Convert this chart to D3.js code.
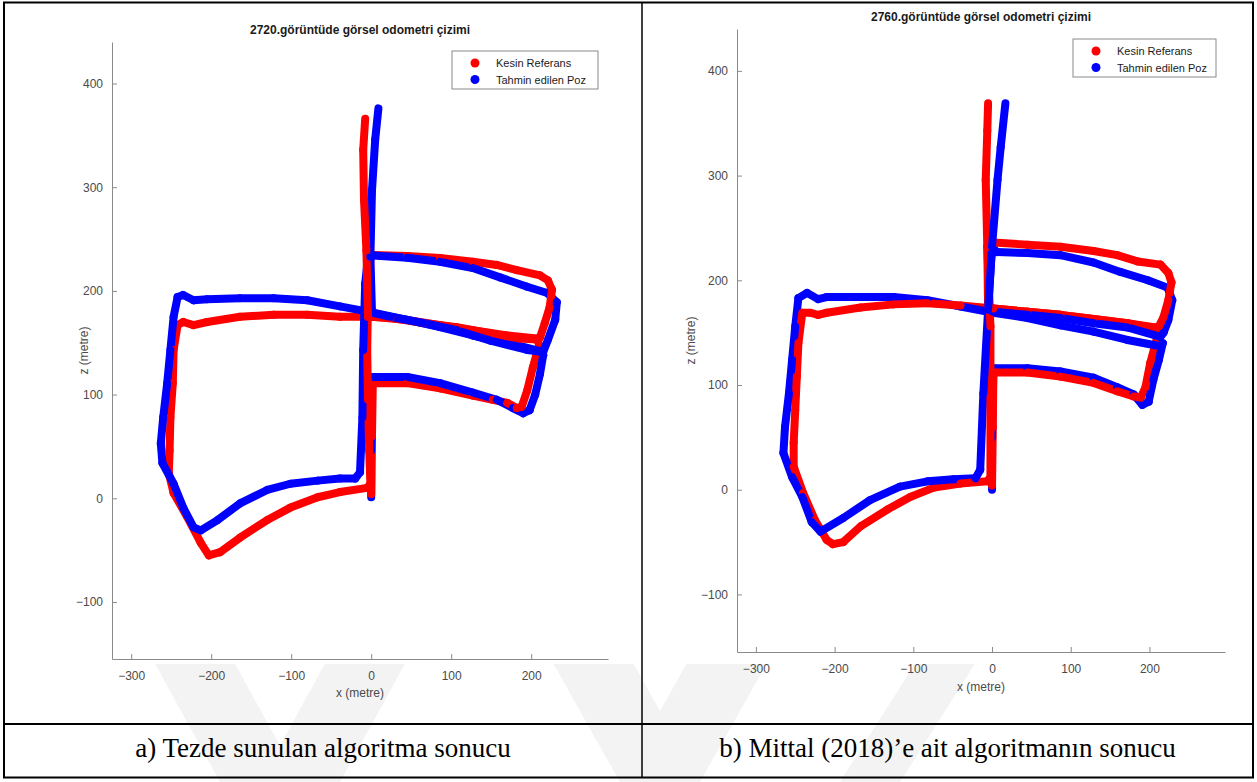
<!DOCTYPE html>
<html>
<head>
<meta charset="utf-8">
<script src="https://cdn.jsdelivr.net/npm/d3@7"></script>
<style>
  body { margin: 0; background: #fff; }
  svg { display: block; }
</style>
</head>
<body>
<svg id="fig" width="1257" height="782"></svg>
<script>
// ---- axis ticks and shared labels ----
const xTicks = [-300, -200, -100, 0, 100, 200];
const zTicks = [-100, 0, 100, 200, 300, 400];
const xDomain = [-324, 296];
const zDomain = [-155, 440];
const seriesNames = ["Kesin Referans", "Tahmin edilen Poz"];
const seriesColors = ["#ff0000", "#0000ff"];
const titles = ["2720.görüntüde görsel odometri çizimi", "2760.görüntüde görsel odometri çizimi"];
const captions = ["a) Tezde sunulan algoritma sonucu", "b) Mittal (2018)’e ait algoritmanın sonucu"];
const xLabel = "x (metre)";
const zLabel = "z (metre)";

// ---- trajectories: [x, z] in metres, split into legs in driving order ----
// (a) ground truth
const refA = [
  [[0, 4], [1, 60], [2, 111]],
  [[2.5, 111], [45, 111], [86, 106], [127, 99], [152, 95], [170, 92], [182, 87], [188, 88], [195, 104], [202, 126], [210, 148], [207, 154]],
  [[170, 157], [127, 162], [86, 167], [45, 172], [2.5, 175], [-39, 175], [-80, 177], [-122, 177], [-164, 175], [-205, 170], [-222, 167], [-235, 170], [-242, 167]],
  [[-247, 143], [-248, 111], [-251, 78], [-252, 46], [-253, 24], [-247, 5], [-230, -18], [-213, -43], [-203, -55], [-189, -52], [-164, -38], [-130, -21], [-101, -9], [-67, 1], [-39, 6], [-5, 10], [-1, 14]],
  [[-2.5, 46], [-4, 95], [-5, 143], [-4, 191], [-1, 232]],
  [[2.5, 234.5], [45, 233.6], [86, 231.7], [127, 228], [157, 225], [182, 220], [211, 215], [221, 210], [226, 201], [223, 184], [217, 169], [211, 155], [207, 153]],
  [[186, 154], [149, 159], [107, 165], [65, 169], [24, 174], [-4, 175]],
  [[-6, 239], [-9, 288], [-10, 336], [-7.5, 366]]
];
// (a) estimate
const estA = [
  [[0, 1], [0, 46], [1, 111]],
  [[2.5, 117], [45, 117], [86, 111], [127, 102], [157, 95], [177, 87], [190, 82], [198, 85], [205, 100], [211, 120], [215, 138], [211, 142]],
  [[170, 150], [127, 157], [86, 165], [45, 172], [2.5, 179], [-39, 185], [-80, 191], [-122, 193], [-164, 193], [-205, 192], [-222, 191], [-235, 196], [-242, 194]],
  [[-247, 175], [-251, 143], [-255, 111], [-260, 78], [-263, 53], [-261, 34], [-247, 14], [-235, -9], [-222, -28], [-213, -31], [-192, -21], [-164, -5], [-130, 8], [-101, 14], [-67, 17], [-39, 19], [-20, 19], [-14, 25]],
  [[-11, 78], [-10, 143], [-7.5, 207], [-4, 233]],
  [[2.5, 234], [45, 232], [86, 228], [127, 222], [161, 213], [195, 204], [220, 198], [232, 189], [230, 172], [221, 153], [215, 141]],
  [[195, 143], [149, 152], [107, 162], [65, 169], [24, 175], [1, 179]],
  [[-1, 233], [1, 297], [5, 346], [9, 376]]
];
// (b) ground truth
const refB = [
  [[0, 4], [1, 60], [1.7, 112]],
  [[45, 112], [87, 108], [129, 102], [159, 94], [180, 89], [189, 88], [195, 98], [201, 121], [210, 146], [208, 155]],
  [[172, 159], [129, 163], [87, 167], [45, 170], [1.7, 173], [-40, 176], [-82, 178], [-125, 177], [-167, 174], [-210, 169], [-221, 167], [-231, 169], [-241, 169]],
  [[-246, 140], [-248, 108], [-250, 76], [-252, 45], [-252, 22], [-240, -3], [-225, -29], [-210, -48], [-202, -52], [-189, -50], [-167, -35], [-133, -19], [-104, -7], [-74, 2], [-40, 6], [-6, 8], [-2, 12]],
  [[-2, 93], [-2, 156], [-6, 232]],
  [[1.7, 236], [45, 234], [87, 232], [129, 228], [159, 224], [185, 218], [214, 215], [224, 207], [228, 198], [224, 181], [218, 165], [212, 156], [205, 154]],
  [[172, 159], [129, 163], [87, 167], [45, 170], [1.7, 173], [-5, 174]],
  [[-6, 232], [-8, 296], [-6, 343], [-5, 369]]
];
// (b) estimate
const estB = [
  [[0, 0], [0, 50], [1.7, 116]],
  [[45, 116], [87, 113], [129, 107], [159, 98], [180, 91], [191, 81], [199, 84], [205, 105], [212, 124], [217, 140], [214, 137]],
  [[172, 143], [129, 151], [87, 157], [45, 164], [1.7, 169], [-40, 175], [-82, 181], [-125, 184], [-167, 184], [-210, 184], [-221, 182], [-235, 188], [-246, 183]],
  [[-250, 156], [-254, 124], [-258, 92], [-263, 60], [-265, 35], [-254, 12], [-241, -7], [-229, -31], [-218, -40], [-189, -27], [-155, -10], [-117, 3], [-82, 8], [-49, 10], [-21, 11], [-15, 19]],
  [[-11, 92], [-5, 172], [0, 232]],
  [[6, 227], [45, 226], [87, 224], [129, 217], [163, 208], [198, 200], [223, 193], [229, 181], [224, 162], [218, 150], [214, 146]],
  [[172, 155], [129, 159], [87, 164], [45, 167], [2, 170], [-5, 172]],
  [[0, 232], [7, 296], [11, 327], [17, 369]]
];

// ---- layout of the two panels ----
const panels = [
  { ref: refA, est: estA, title: titles[0], caption: captions[0],
    left: 112, right: 608, top: 42, bottom: 659, titleY: 34, zLabelX: 88, xLabelY: 697,
    legend: { x: 452, y: 51, w: 146, h: 38 }, cellX0: 4, cellX1: 642 },
  { ref: refB, est: estB, title: titles[1], caption: captions[1],
    left: 737, right: 1225, top: 29, bottom: 652, titleY: 21, zLabelX: 695, xLabelY: 691,
    legend: { x: 1073, y: 39, w: 143, h: 38 }, cellX0: 642, cellX1: 1253 }
];

const svg = d3.select("#fig");
const font = "'Liberation Sans', Arial, Helvetica, sans-serif";

// faint diagonal watermark bands along the lower part of the page
svg.append("clipPath").attr("id", "wmclip")
  .append("rect").attr("x", 0).attr("y", 664).attr("width", 1257).attr("height", 118);
const wm = svg.append("g").attr("fill", "#f3f3f3").attr("clip-path", "url(#wmclip)");
const bands = [
  [[120, 600], [200, 600], [300, 782], [220, 782]],
  [[360, 600], [440, 600], [340, 782], [260, 782]],
  [[540, 640], [620, 640], [700, 782], [620, 782]],
  [[700, 640], [780, 640], [700, 782], [620, 782]],
  [[930, 640], [990, 640], [900, 782], [840, 782]]
];
wm.selectAll("polygon").data(bands).join("polygon")
  .attr("points", d => d.map(p => p.join(",")).join(" "));

// segments of both series, ordered by progress along the route so later
// parts of the drive are painted over earlier ones
function segmentsOf(legs, colour, order) {
  const segs = [];
  let prev = null;
  legs.forEach((leg, k) => {
    const pts = prev ? [prev, ...leg] : leg.slice();
    const lens = [];
    let total = 0;
    for (let i = 1; i < pts.length; i++) {
      const l = Math.hypot(pts[i][0] - pts[i - 1][0], pts[i][1] - pts[i - 1][1]);
      lens.push(l); total += l;
    }
    let acc = 0;
    for (let i = 1; i < pts.length; i++) {
      const mid = acc + lens[i - 1] / 2;
      acc += lens[i - 1];
      segs.push({ a: pts[i - 1], b: pts[i], key: k + (total ? mid / total : 0), order, colour });
    }
    prev = leg[leg.length - 1];
  });
  return segs;
}

panels.forEach(p => {
  const x = d3.scaleLinear().domain(xDomain).range([p.left, p.right]);
  const z = d3.scaleLinear().domain(zDomain).range([p.bottom, p.top]);
  const g = svg.append("g");

  // trajectories
  const segs = segmentsOf(p.ref, seriesColors[0], 0)
    .concat(segmentsOf(p.est, seriesColors[1], 1))
    .sort((s, t) => (s.key - t.key) || (s.order - t.order));
  g.append("g")
    .attr("stroke-width", 8)
    .attr("stroke-linecap", "round")
    .selectAll("line").data(segs).join("line")
    .attr("x1", d => x(d.a[0])).attr("y1", d => z(d.a[1]))
    .attr("x2", d => x(d.b[0])).attr("y2", d => z(d.b[1]))
    .attr("stroke", d => d.colour);

  // axes (inward ticks, no box)
  const xa = g.append("g").attr("transform", `translate(0,${p.bottom})`)
    .call(d3.axisBottom(x).tickValues(xTicks).tickSizeInner(-5).tickSizeOuter(0).tickPadding(12));
  const za = g.append("g").attr("transform", `translate(${p.left},0)`)
    .call(d3.axisLeft(z).tickValues(zTicks).tickSizeInner(-5).tickSizeOuter(0).tickPadding(9));
  [xa, za].forEach(a => {
    a.select(".domain").attr("stroke", "#8a8a8a");
    a.selectAll(".tick line").attr("stroke", "#8a8a8a");
    a.selectAll(".tick text").attr("fill", "#4a4a4a").style("font", `12px ${font}`);
  });

  // axis titles
  g.append("text").attr("x", (p.left + p.right) / 2).attr("y", p.xLabelY)
    .attr("text-anchor", "middle").attr("fill", "#4a4a4a").style("font", `12px ${font}`)
    .text(xLabel);
  g.append("text").attr("transform", `translate(${p.zLabelX},${(p.top + p.bottom) / 2}) rotate(-90)`)
    .attr("text-anchor", "middle").attr("fill", "#4a4a4a").style("font", `12px ${font}`)
    .text(zLabel);

  // chart title
  g.append("text").attr("x", (p.left + p.right) / 2).attr("y", p.titleY)
    .attr("text-anchor", "middle").attr("fill", "#1a1a1a")
    .style("font", `bold 12px ${font}`).text(p.title);

  // legend
  const L = p.legend;
  const lg = g.append("g").attr("transform", `translate(${L.x},${L.y})`);
  lg.append("rect").attr("width", L.w).attr("height", L.h)
    .attr("fill", "#fff").attr("stroke", "#8a8a8a").attr("stroke-width", 1);
  seriesNames.forEach((name, i) => {
    const cy = 12 + i * 16.5;
    lg.append("circle").attr("cx", 23).attr("cy", cy).attr("r", 4.5).attr("fill", seriesColors[i]);
    lg.append("text").attr("x", 44).attr("y", cy + 4).attr("fill", "#1a1a1a")
      .style("font", `11px ${font}`).text(name);
  });

  // caption under the chart
  svg.append("text").attr("x", (p.cellX0 + p.cellX1) / 2).attr("y", 757)
    .attr("text-anchor", "middle").attr("fill", "#000")
    .style("font", "27px 'Liberation Serif', 'Times New Roman', serif")
    .text(p.caption);
});

// table rules around the two figures and their captions
const rules = svg.append("g").attr("stroke", "#000");
rules.append("rect").attr("x", 4).attr("y", 2.5).attr("width", 1249).attr("height", 775)
  .attr("fill", "none").attr("stroke-width", 2);
rules.append("line").attr("x1", 642).attr("x2", 642).attr("y1", 2).attr("y2", 778).attr("stroke-width", 1.5);
rules.append("line").attr("x1", 4).attr("x2", 1253).attr("y1", 724).attr("y2", 724).attr("stroke-width", 2);
</script>
</body>
</html>
